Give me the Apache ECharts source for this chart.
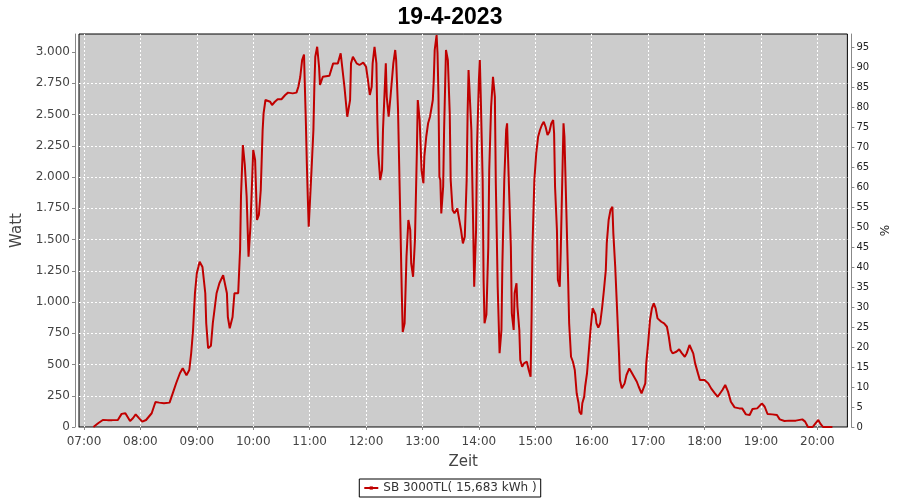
<!DOCTYPE html>
<html>
<head>
<meta charset="utf-8">
<script src="https://cdn.jsdelivr.net/npm/echarts@6/dist/echarts.min.js"></script>
<style>html,body{margin:0;padding:0;background:#fff;}#c{width:900px;height:500px;}</style>
</head>
<body>
<div id="c"></div>
<script>
const chartTitle = '19-4-2023';
const seriesName = 'SB 3000TL( 15,683 kWh )';
const times = ['07:10','07:15','07:20','07:25','07:30','07:36','07:40','07:44','07:46','07:49','07:52','07:55','07:58','08:02','08:06','08:12','08:16','08:20','08:25','08:31','08:35','08:38','08:42','08:45','08:49','08:52','08:54','08:56','08:58','09:00','09:03','09:06','09:09','09:10','09:12','09:15','09:17','09:21','09:24','09:28','09:32','09:33','09:35','09:38','09:40','09:44','09:46','09:47','09:49','09:51','09:53','09:55','09:57','10:00','10:02','10:04','10:06','10:08','10:10','10:11','10:13','10:15','10:18','10:20','10:23','10:26','10:30','10:34','10:37','10:42','10:46','10:48','10:50','10:52','10:54','10:55','10:56','10:57','10:58','10:59','11:01','11:02','11:04','11:05','11:06','11:08','11:10','11:11','11:14','11:21','11:25','11:30','11:33','11:35','11:37','11:40','11:43','11:44','11:46','11:50','11:53','11:57','12:00','12:02','12:04','12:06','12:07','12:09','12:11','12:12','12:13','12:15','12:17','12:18','12:21','12:22','12:24','12:26','12:29','12:31','12:32','12:34','12:36','12:38','12:39','12:41','12:43','12:45','12:47','12:48','12:50','12:52','12:54','12:55','12:57','12:59','13:01','13:02','13:04','13:06','13:08','13:11','13:12','13:13','13:15','13:16','13:17','13:18','13:19','13:20','13:22','13:23','13:25','13:27','13:29','13:30','13:32','13:34','13:37','13:39','13:41','13:43','13:45','13:47','13:48','13:49','13:51','13:52','13:54','13:55','13:57','13:58','14:00','14:01','14:02','14:04','14:05','14:06','14:08','14:10','14:11','14:13','14:15','14:17','14:18','14:20','14:22','14:24','14:25','14:27','14:29','14:30','14:31','14:34','14:35','14:37','14:38','14:40','14:41','14:43','14:44','14:46','14:48','14:50','14:51','14:53','14:55','14:56','14:57','14:59','15:01','15:03','15:05','15:07','15:09','15:11','15:13','15:15','15:17','15:19','15:20','15:21','15:23','15:24','15:26','15:27','15:28','15:29','15:30','15:31','15:33','15:35','15:36','15:38','15:40','15:42','15:44','15:46','15:47','15:49','15:50','15:52','15:53','15:55','15:57','15:59','16:01','16:02','16:04','16:05','16:07','16:09','16:11','16:13','16:15','16:16','16:18','16:20','16:22','16:23','16:25','16:27','16:29','16:30','16:32','16:35','16:37','16:40','16:42','16:45','16:48','16:50','16:53','16:55','16:57','16:58','17:00','17:02','17:04','17:06','17:08','17:10','17:14','17:17','17:20','17:22','17:24','17:26','17:30','17:33','17:36','17:39','17:41','17:44','17:46','17:48','17:50','17:53','17:55','18:00','18:04','18:07','18:11','18:14','18:16','18:19','18:22','18:25','18:28','18:32','18:37','18:40','18:44','18:48','18:51','18:56','19:01','19:04','19:07','19:12','19:17','19:20','19:25','19:30','19:37','19:44','19:47','19:50','19:55','19:58','20:01','20:03','20:06','20:16'];
const watts = [0,30,56,55,55,56,105,110,100,48,70,101,75,43,56,110,200,195,190,195,283,350,430,470,414,456,590,776,1070,1230,1322,1280,1070,830,630,650,830,1070,1150,1215,1070,880,790,880,1070,1070,1416,1850,2256,2100,1842,1362,1602,2216,2136,1656,1696,1896,2376,2509,2616,2622,2602,2576,2602,2622,2622,2656,2675,2669,2675,2722,2800,2936,2980,2700,2430,2110,1842,1602,1602,2056,2376,2722,2962,3042,2882,2736,2802,2810,2909,2909,2990,2975,2722,2482,2616,2909,2962,2909,2896,2915,2882,2776,2656,2722,2909,3042,2909,2456,2190,1976,2056,2376,2909,2642,2482,2642,2909,3016,2936,2536,1816,1070,760,830,1362,1656,1576,1310,1202,1496,2190,2616,2456,2056,1950,2165,2322,2430,2482,2616,2776,3016,3136,2990,2660,2002,1976,1709,1922,2376,3016,2936,2509,1976,1736,1709,1749,1736,1576,1469,1522,1976,2509,2856,2856,2376,1576,1122,1576,2242,2776,2936,2642,1976,1176,830,900,1442,2056,2562,2802,2642,1950,1122,590,776,1309,1976,2376,2429,2162,1442,910,776,1070,1150,963,776,536,482,509,509,523,456,402,856,1442,1976,2190,2322,2376,2416,2442,2400,2336,2362,2429,2456,2349,1922,1576,1176,1122,1389,1736,2082,2429,2322,1736,1150,830,562,522,456,270,190,122,100,190,243,322,430,616,802,950,962,900,830,795,830,950,1096,1256,1469,1656,1736,1762,1549,1282,936,589,376,309,349,416,469,442,402,362,322,269,269,349,509,669,856,949,989,949,869,842,829,802,722,616,589,602,621,589,562,589,656,656,589,509,429,376,376,349,309,269,242,237,296,336,283,202,157,149,149,101,96,144,149,189,162,104,101,96,61,48,51,51,61,43,0,0,29,56,29,0,0];
const wattTicks = [0,250,500,750,1000,1250,1500,1750,2000,2250,2500,2750,3000];
const pctTicks = [0,5,10,15,20,25,30,35,40,45,50,55,60,65,70,75,80,85,90,95];

function ts(hm){ const p = hm.split(':'); return Date.UTC(2023,3,19,+p[0],+p[1]); }
const data = times.map((t,i)=>[ts(t), watts[i]]);

const chart = echarts.init(document.getElementById('c'));
const lab = {color:'#444', fontFamily:'DejaVu Sans', fontSize:12};
chart.setOption({
  animation:false,
  useUTC:true,
  backgroundColor:'#fff',
  title:{text:chartTitle,left:'center',top:1,textStyle:{fontFamily:'Liberation Sans',fontWeight:'bold',fontSize:23,color:'#000'}},
  legend:{bottom:3,left:'center',borderColor:'#000',borderWidth:1,padding:[3,4,3,4],itemWidth:14,itemHeight:4,
    textStyle:{fontFamily:'DejaVu Sans',fontSize:12,color:'#333'}, data:[seriesName]},
  grid:{left:79,right:52,top:34,bottom:73,show:true,backgroundColor:'#cccccc',borderColor:'#000',borderWidth:1,containLabel:false},
  xAxis:{type:'time',min:ts('06:54')+41000,max:ts('20:31')+55000,minInterval:3600000,maxInterval:3600000,offset:4,
    name:'Zeit',nameLocation:'middle',nameGap:24,nameTextStyle:{fontFamily:'DejaVu Sans',fontSize:15,color:'#444'},
    axisLine:{show:true,lineStyle:{color:'#888'}},axisTick:{show:true,length:3,lineStyle:{color:'#888'}},
    axisLabel:Object.assign({formatter:'{HH}:{mm}',margin:5,hideOverlap:false,showMinLabel:false,showMaxLabel:false},lab),
    splitLine:{show:true,showMinLine:false,showMaxLine:false,lineStyle:{color:'#fff',type:[2,2],width:1}},minorTick:{show:false}},
  yAxis:[
    {type:'value',min:0,max:3144,interval:250,offset:4,position:'left',
     name:'Watt',nameLocation:'middle',nameGap:47,nameTextStyle:{fontFamily:'DejaVu Sans',fontSize:15,color:'#444'},
     axisLine:{show:true,lineStyle:{color:'#888'}},axisTick:{show:true,length:3,lineStyle:{color:'#888'},customValues:wattTicks},
     axisLabel:Object.assign({margin:5,customValues:wattTicks,formatter:v=>v.toLocaleString('de-DE')},lab),
     splitLine:{show:true,showMaxLine:false,lineStyle:{color:'#fff',type:[2,2],width:1}}},
    {type:'value',min:0,max:98.25,interval:5,offset:4,position:'right',
     name:'%',nameLocation:'middle',nameGap:28,nameTextStyle:{fontFamily:'DejaVu Sans',fontSize:12,color:'#222'},
     axisLine:{show:true,lineStyle:{color:'#888'}},axisTick:{show:true,length:3,lineStyle:{color:'#888'},customValues:pctTicks},
     axisLabel:{margin:5,customValues:pctTicks,color:'#222',fontFamily:'DejaVu Sans',fontSize:10},
     splitLine:{show:false}}
  ],
  series:[{name:seriesName,type:'line',data:data,yAxisIndex:0,showSymbol:false,symbol:'rect',symbolSize:5,
    lineStyle:{color:'#c00000',width:2},itemStyle:{color:'#c00000'},emphasis:{disabled:true}}]
});
</script>
</body>
</html>
